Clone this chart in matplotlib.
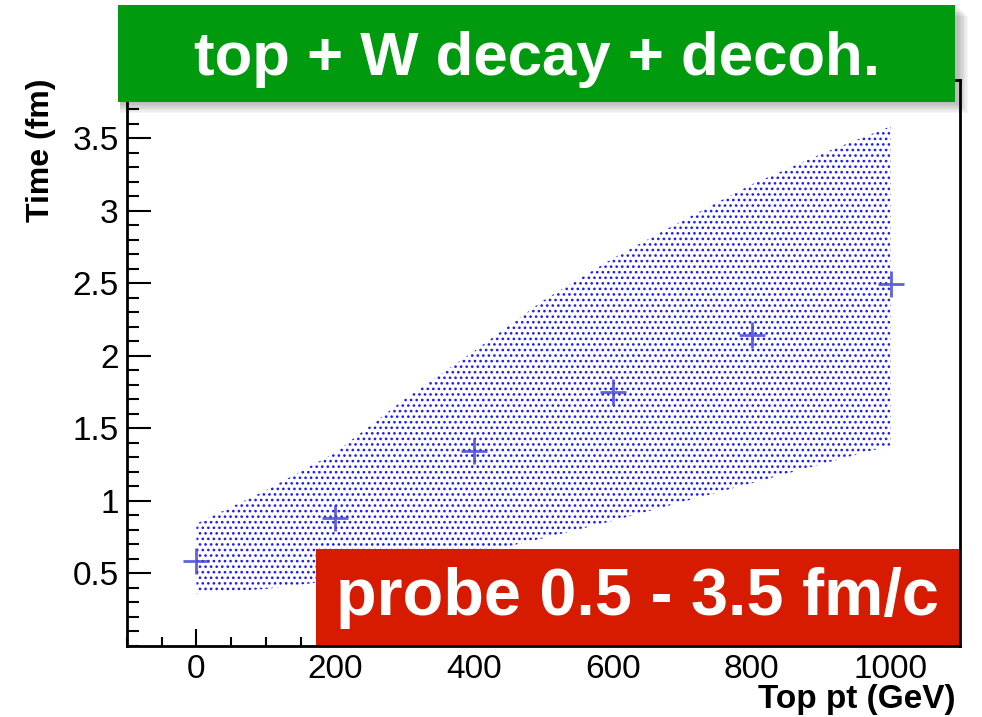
import matplotlib
matplotlib.use("Agg")
import matplotlib.pyplot as plt
from matplotlib.patches import Rectangle
from matplotlib.ticker import MultipleLocator

plt.rcParams['font.family'] = ['Liberation Sans', 'DejaVu Sans']
plt.rcParams['hatch.linewidth'] = 1.1

# time estimates vs top pt
top_pt = [0, 200, 400, 600, 800, 1000]
time_fm = [0.58, 0.88, 1.34, 1.75, 2.14, 2.49]

# band edges
band_pt = [0, 100, 200, 300, 400, 500, 600, 700, 800, 900, 1000]
band_hi = [0.84, 1.07, 1.33, 1.70, 2.03, 2.38, 2.67, 2.93, 3.18, 3.39, 3.58]
band_lo = [0.36, 0.39, 0.45, 0.53, 0.63, 0.74, 0.86, 0.99, 1.12, 1.25, 1.38]

fig = plt.figure(figsize=(9.82, 7.17), dpi=100)
ax = fig.add_axes([0.1293, 0.0997, 0.8483, 0.7887])

ax.fill_between(band_pt, band_lo, band_hi, facecolor='none',
                edgecolor='#1a1aff', hatch='...', linewidth=0, zorder=1)
ax.plot(top_pt, time_fm, linestyle='none', marker='+', markersize=19,
        markeredgewidth=2, color='#4646d2', alpha=0.85, zorder=3)

ax.set_xlim(-100, 1100)
ax.set_ylim(0, 3.9)
ax.xaxis.set_major_locator(MultipleLocator(200))
ax.xaxis.set_minor_locator(MultipleLocator(50))
ax.yaxis.set_minor_locator(MultipleLocator(0.1))
ax.set_yticks([0.5, 1, 1.5, 2, 2.5, 3, 3.5])
ax.set_yticklabels(['0.5', '1', '1.5', '2', '2.5', '3', '3.5'])

ax.tick_params(axis='both', which='both', direction='in', width=1.5,
               labelsize=24, top=False, right=False)
ax.tick_params(axis='y', which='major', length=17, pad=6)
ax.tick_params(axis='y', which='minor', length=8.5)
ax.tick_params(axis='x', which='major', length=12.5, pad=6)
ax.tick_params(axis='x', which='minor', length=6.5)
for sp in ax.spines.values():
    sp.set_linewidth(2)
    sp.set_zorder(5)

# red box in lower right corner
ax.add_patch(Rectangle((0.2269, 0.0), 0.7731, 0.1715, transform=ax.transAxes,
                       facecolor='#d71b00', edgecolor='none', clip_on=False, zorder=4))
fig.text(637 / 982, 1 - 615 / 717, 'probe 0.5 - 3.5 fm/c', ha='center',
         va='baseline', color='white', fontsize=48, fontweight='bold', zorder=6)

# axis titles
fig.text(41 / 982, 1 - 78 / 717, 'Time (fm)', rotation=90, ha='center', va='top',
         fontsize=23, fontweight='bold')
fig.text(955 / 982, 1 - 708 / 717, 'Top pt (GeV)', ha='right', va='baseline',
         fontsize=24, fontweight='bold')

# green banner with a soft drop shadow
gx0, gx1 = 118 / 982, 955 / 982
gy0, gy1 = 1 - 102 / 717, 1 - 5 / 717
for i in range(8):
    d = (i + 1) * 1.4
    fig.add_artist(Rectangle((gx0 + 2 / 982, gy0 - d / 717), gx1 - gx0 + d / 982,
                             gy1 - gy0, transform=fig.transFigure,
                             facecolor='black', edgecolor='none', alpha=0.035,
                             zorder=8))
fig.add_artist(Rectangle((gx0, gy0), gx1 - gx0, gy1 - gy0, transform=fig.transFigure,
                         facecolor='#009a0e', edgecolor='none', zorder=9))
fig.text(537 / 982, 1 - 75 / 717, 'top + W decay + decoh.', ha='center',
         va='baseline', color='white', fontsize=44.5, fontweight='bold', zorder=10)

fig.savefig('out.png', dpi=100)
